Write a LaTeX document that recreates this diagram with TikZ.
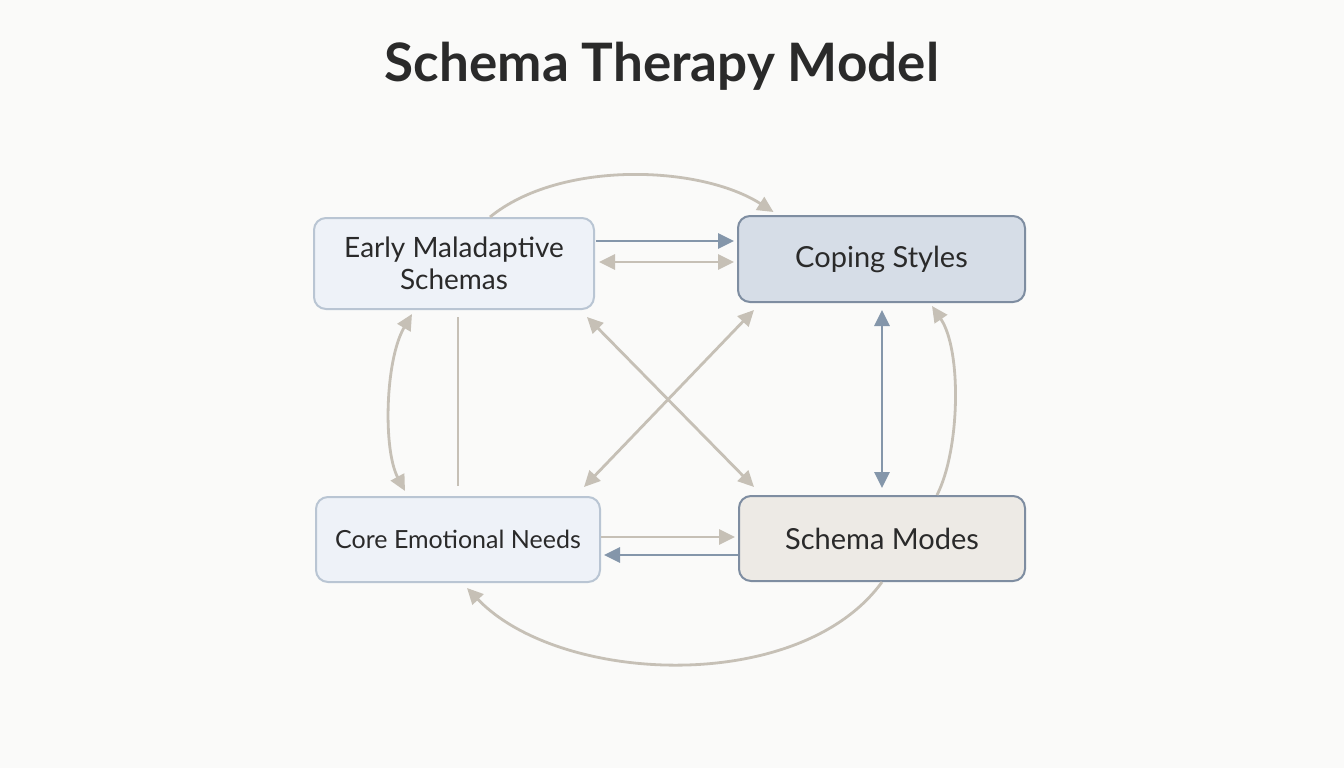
\documentclass[tikz,border=0pt]{standalone}
\usepackage{fontspec}
\setmainfont{Lato}
\usetikzlibrary{arrows.meta,calc}
\definecolor{bgc}{HTML}{FAFAF9}
\definecolor{beige}{HTML}{C6C0B6}
\definecolor{slate}{HTML}{8496AA}
\definecolor{lightfill}{HTML}{EEF2F8}
\definecolor{lightborder}{HTML}{B9C5D3}
\definecolor{copfill}{HTML}{D6DDE7}
\definecolor{darkborder}{HTML}{7E8DA1}
\definecolor{modefill}{HTML}{EDEAE5}
\definecolor{txt}{HTML}{2A2A2A}
\tikzset{
  ltri/.tip={Triangle[length=16pt,width=15pt]},
  box/.style={rectangle, rounded corners=12pt, line width=2pt, align=center,
    text=txt, font=\fontsize{28}{32}\selectfont, inner sep=0pt},
  lbox/.style={box, fill=lightfill, draw=lightborder},
  beigeln/.style={draw=beige, line width=2.8pt},
  slateln/.style={draw=slate, line width=2.8pt},
}
\begin{document}
\begin{tikzpicture}[x=1pt,y=-1pt]
\fill[bgc] (0,0) rectangle (1344,768);
\useasboundingbox (0,0) rectangle (1344,768);
\node[text=txt, font=\fontsize{53}{60}\selectfont\bfseries] (title) at (662,66) {Schema Therapy Model};
\node[lbox, minimum width=280pt, minimum height=91pt] (ems) at (454,263.5) {Early Maladaptive\\Schemas};
\node[box, fill=copfill, draw=darkborder, minimum width=287pt, minimum height=86pt, font=\fontsize{29}{32}\selectfont] (cop) at (881.5,259) {Coping Styles};
\node[lbox, minimum width=284pt, minimum height=85pt, font=\fontsize{25}{30}\selectfont] (cen) at (458,539.5) {Core Emotional Needs};
\node[box, fill=modefill, draw=darkborder, minimum width=286pt, minimum height=85pt, font=\fontsize{29}{32}\selectfont] (mod) at (882,538.5) {Schema Modes};
% top horizontal pair
\draw[slateln, -{ltri}] ($(ems.east)+(1,-22.5)$) -- ($(cop.west)+(-3,-18)$);
\draw[beigeln, {ltri}-{ltri}] ($(ems.east)+(4,-1.5)$) -- ($(cop.west)+(-3,3)$);
% bottom horizontal pair
\draw[beigeln, -{ltri}] ($(cen.east)+(0,-2.5)$) -- ($(mod.west)+(-3,-1.5)$);
\draw[slateln, -{ltri}] ($(mod.west)+(0,16.5)$) -- ($(cen.east)+(3,15.5)$);
% verticals
\draw[beigeln, {ltri}-{ltri}] ($(ems.south)+(-42,4)$) .. controls (385,360) and (383,450) .. ($(cen.north)+(-53,-5)$);
\draw[beigeln] ($(ems.south)+(4,7)$) -- ($(cen.north)+(0,-10)$);
\draw[slateln, {ltri}-{ltri}] ($(cop.south)+(0.5,7)$) -- ($(mod.north)+(0,-7)$);
% diagonals
\draw[beigeln, {ltri}-{ltri}] ($(ems.south east)+(-8,7)$) -- ($(mod.north west)+(16,-8)$);
\draw[beigeln, {ltri}-{ltri}] ($(cop.south west)+(17,7)$) -- ($(cen.north east)+(-17,-9)$);
% arcs
\draw[beigeln, -{ltri}] ($(ems.north)+(36,0)$) .. controls (560,160) and (700,165) .. ($(cop.north)+(-108,-3)$);
\draw[beigeln, -{ltri}] ($(mod.north)+(55,0)$) .. controls (960,450) and (962,350) .. ($(cop.south)+(50.5,3)$);
\draw[beigeln, -{ltri}] ($(mod.south)+(0,0)$) .. controls (800,695) and (560,685) .. ($(cen.south)+(9,5)$);
\end{tikzpicture}
\end{document}
